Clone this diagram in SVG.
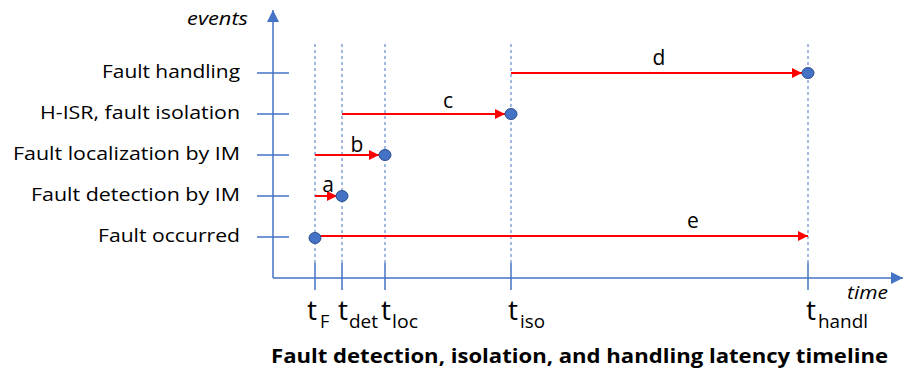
<svg xmlns="http://www.w3.org/2000/svg" width="905" height="371" viewBox="0 0 905 371">
<defs>
<style>
.ax{stroke:#4472C4;stroke-width:1.5;fill:none}
.tick{stroke:#4472C4;stroke-width:1.5}
.dash{stroke:#4472C4;stroke-width:1;stroke-dasharray:3,3}
.red{stroke:#FF0000;stroke-width:2;fill:none;marker-end:url(#ra)}
.dot{fill:#4472C4;stroke:#2F528F;stroke-width:1}
.lbl{font-family:"Open Sans","Liberation Sans",sans-serif;font-size:18px;fill:#000;text-anchor:end}
.let{font-family:"Open Sans","Liberation Sans",sans-serif;font-size:21px;fill:#000;text-anchor:middle}
.it{font-family:"Open Sans","Liberation Sans",sans-serif;font-size:19px;font-style:italic;fill:#000}
.tt{font-family:"Open Sans","Liberation Sans",sans-serif;font-size:28px;fill:#000}
.sub{font-family:"Open Sans","Liberation Sans",sans-serif;font-size:18px;fill:#000}
.title{font-family:"Open Sans","Liberation Sans",sans-serif;font-size:19px;font-weight:bold;fill:#000}
</style>
<marker id="ra" viewBox="0 0 10 10" refX="10" refY="5" markerUnits="userSpaceOnUse" markerWidth="12" markerHeight="10" orient="auto">
<path d="M0,0 L10,5 L0,10 Z" fill="#FF0000"/>
</marker>
<marker id="ba" viewBox="0 0 10 10" refX="10" refY="5" markerUnits="userSpaceOnUse" markerWidth="12" markerHeight="12" orient="auto">
<path d="M0,0 L10,5 L0,10 Z" fill="#4472C4"/>
</marker>
</defs>
<rect width="905" height="371" fill="#fff"/>

<g id="axes">
<line class="ax" x1="273" y1="278" x2="273" y2="10" marker-end="url(#ba)"/>
<line class="ax" x1="273" y1="278" x2="903" y2="278" marker-end="url(#ba)"/>
<text class="it" x="187" y="25" textLength="61" lengthAdjust="spacingAndGlyphs">events</text>
<text class="it" x="847" y="299" textLength="41" lengthAdjust="spacingAndGlyphs">time</text>
</g>

<g id="rows">
<line class="tick" x1="257" y1="73" x2="289" y2="73"/>
<line class="tick" x1="257" y1="114" x2="289" y2="114"/>
<line class="tick" x1="257" y1="155" x2="289" y2="155"/>
<line class="tick" x1="257" y1="196" x2="289" y2="196"/>
<line class="tick" x1="257" y1="237" x2="289" y2="237"/>
<text class="lbl" x="240" y="78" textLength="138" lengthAdjust="spacingAndGlyphs">Fault handling</text>
<text class="lbl" x="240" y="119" textLength="200" lengthAdjust="spacingAndGlyphs">H-ISR, fault isolation</text>
<text class="lbl" x="240" y="160" textLength="227" lengthAdjust="spacingAndGlyphs">Fault localization by IM</text>
<text class="lbl" x="240" y="201" textLength="209" lengthAdjust="spacingAndGlyphs">Fault detection by IM</text>
<text class="lbl" x="240" y="242" textLength="142" lengthAdjust="spacingAndGlyphs">Fault occurred</text>
</g>

<g id="time-marks">
<line class="dash" x1="315" y1="44" x2="315" y2="263"/>
<line class="dash" x1="342" y1="44" x2="342" y2="263"/>
<line class="dash" x1="385" y1="44" x2="385" y2="263"/>
<line class="dash" x1="511" y1="44" x2="511" y2="263"/>
<line class="dash" x1="808" y1="44" x2="808" y2="263"/>
<line class="tick" x1="315" y1="263" x2="315" y2="290"/>
<line class="tick" x1="342" y1="263" x2="342" y2="290"/>
<line class="tick" x1="385" y1="263" x2="385" y2="290"/>
<line class="tick" x1="511" y1="263" x2="511" y2="290"/>
<line class="tick" x1="808" y1="263" x2="808" y2="290"/>
</g>

<g id="tlabels">
<text class="tt" x="307" y="320">t</text><text class="sub" x="320" y="328">F</text>
<text class="tt" x="338" y="320">t</text><text class="sub" x="349" y="328" textLength="29" lengthAdjust="spacingAndGlyphs">det</text>
<text class="tt" x="381" y="320">t</text><text class="sub" x="392" y="328" textLength="26" lengthAdjust="spacingAndGlyphs">loc</text>
<text class="tt" x="508" y="320">t</text><text class="sub" x="520" y="328" textLength="25" lengthAdjust="spacingAndGlyphs">iso</text>
<text class="tt" x="806" y="320">t</text><text class="sub" x="818" y="328" textLength="50" lengthAdjust="spacingAndGlyphs">handl</text>
</g>

<g id="connectors">
<line class="red" x1="315" y1="196" x2="337" y2="196"/>
<line class="red" x1="315" y1="155" x2="379" y2="155"/>
<line class="red" x1="342" y1="114" x2="505" y2="114"/>
<line class="red" x1="511" y1="73" x2="802" y2="73"/>
<line class="red" x1="315" y1="236" x2="808" y2="236"/>
<text class="let" x="328" y="192">a</text>
<text class="let" x="357" y="152">b</text>
<text class="let" x="448" y="108">c</text>
<text class="let" x="659" y="65">d</text>
<text class="let" x="693" y="228">e</text>
</g>

<g id="points">
<ellipse class="dot" cx="315" cy="238" rx="6" ry="5.5"/>
<ellipse class="dot" cx="342" cy="196" rx="6" ry="5.5"/>
<ellipse class="dot" cx="385" cy="155" rx="6" ry="5.5"/>
<ellipse class="dot" cx="511" cy="114" rx="6" ry="5.5"/>
<ellipse class="dot" cx="808" cy="73" rx="6" ry="5.5"/>
</g>

<g id="title">
<text class="title" x="271" y="363" textLength="617" lengthAdjust="spacingAndGlyphs">Fault detection, isolation, and handling latency timeline</text>
</g>
</svg>
